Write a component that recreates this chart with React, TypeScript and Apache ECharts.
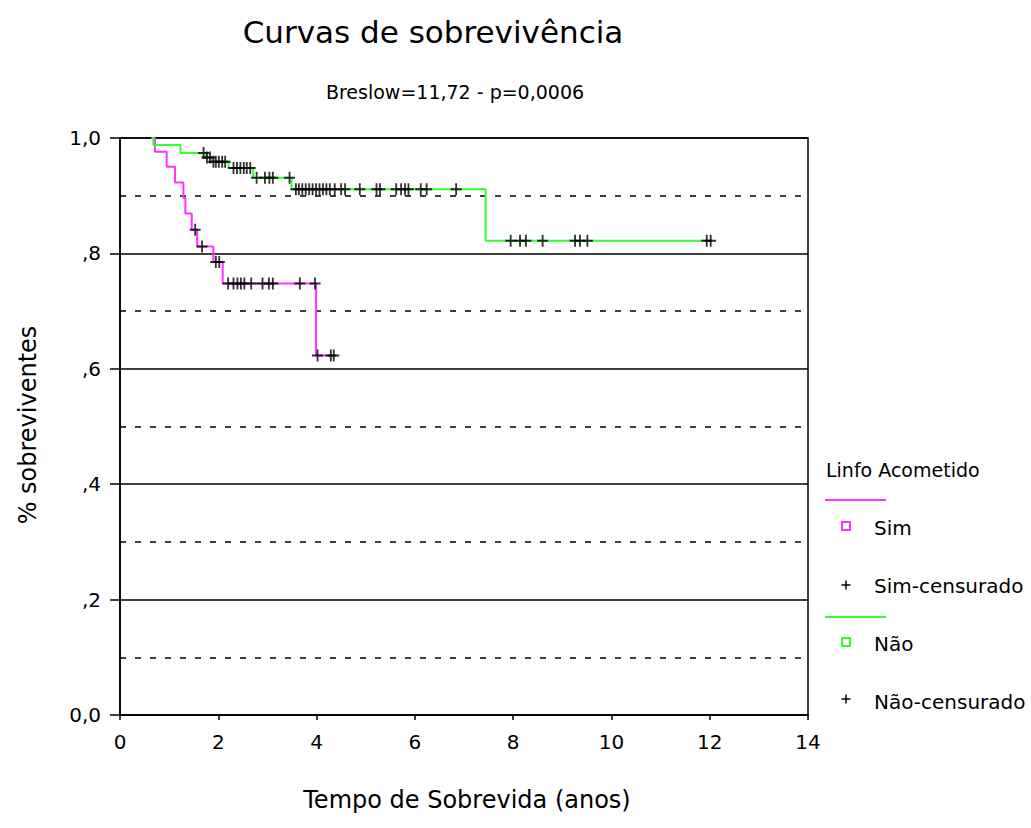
import React, { useEffect, useRef } from "react";
import * as echarts from "echarts";

// ---- Data ----
const simStepTimes = [0.65, 0.71, 0.95, 1.12, 1.29, 1.33, 1.46, 1.57, 1.9, 2.09, 3.99, 4.35];
const simStepSurv = [1.0, 0.976, 0.95, 0.923, 0.896, 0.869, 0.841, 0.812, 0.785, 0.748, 0.623, 0.623];
const simCensored = [1.53, 1.67, 1.95, 2.02, 2.2, 2.31, 2.39, 2.46, 2.53, 2.67, 2.9, 3.03, 3.11, 3.66, 3.97, 4.02, 4.29, 4.35];

const naoStepTimes = [0.64, 0.68, 1.23, 1.74, 1.86, 2.21, 2.71, 3.49, 7.44, 12.02];
const naoStepSurv = [1.0, 0.988, 0.974, 0.966, 0.959, 0.948, 0.931, 0.911, 0.822, 0.822];
const naoCensored = [
  1.7, 1.77, 1.83, 1.9, 1.95, 2.01, 2.08, 2.14, 2.31, 2.38, 2.45, 2.52, 2.58, 2.65, 2.78, 2.95, 3.04,
  3.11, 3.45, 3.58, 3.64, 3.71, 3.78, 3.85, 3.92, 3.99, 4.06, 4.13, 4.2, 4.27, 4.37, 4.5, 4.58, 4.88,
  5.22, 5.29, 5.62, 5.72, 5.8, 5.87, 6.12, 6.24, 6.84, 7.95, 8.14, 8.26, 8.6, 9.26, 9.36, 9.51, 11.94, 12.02,
];

const yTickLabels = ["0,0", ",2", ",4", ",6", ",8", "1,0"];
const xTickLabels = ["0", "2", "4", "6", "8", "10", "12", "14"];

const titleText = "Curvas de sobrevivência";
const subtitleText = "Breslow=11,72 - p=0,0006";
const xName = "Tempo de Sobrevida (anos)";
const yName = "% sobreviventes";
const legendTitle = "Linfo Acometido";
const legendLabels = ["Sim", "Sim-censurado", "Não", "Não-censurado"];

const MAGENTA = "#ff33ff";
const GREEN = "#33ff33";
const FONT = "DejaVu Sans";

function survivalAt(times: number[], surv: number[], t: number): number {
  let s = surv[0];
  for (let i = 0; i < times.length; i++) {
    if (times[i] <= t) s = surv[i];
  }
  return s;
}

const PLUS = "path://M5,0H7V5H12V7H7V12H5V7H0V5H5Z";

export default function App() {
  const ref = useRef<HTMLDivElement>(null);
  useEffect(() => {
    if (!ref.current) return;
    const chart = echarts.init(ref.current, undefined, { renderer: "svg" });

    const simLine = simStepTimes.map((t, i) => [t, simStepSurv[i]]);
    const naoLine = naoStepTimes.map((t, i) => [t, naoStepSurv[i]]);
    const simCens = simCensored.map((t) => [t, survivalAt(simStepTimes, simStepSurv, t)]);
    const naoCens = naoCensored.map((t) => [t, survivalAt(naoStepTimes, naoStepSurv, t)]);

    const textStyle = (size: number) => ({ fontFamily: FONT, fontSize: size, fill: "#000" });

    const plusGlyph = (cx: number, cy: number) => [
      { type: "line", shape: { x1: cx - 4.5, y1: cy, x2: cx + 4.5, y2: cy }, style: { stroke: "#000", lineWidth: 1.5 } },
      { type: "line", shape: { x1: cx, y1: cy - 4.5, x2: cx, y2: cy + 4.5 }, style: { stroke: "#000", lineWidth: 1.5 } },
    ];

    chart.setOption({
      animation: false,
      backgroundColor: "#fff",
      grid: {
        left: 120,
        right: 223,
        top: 138,
        bottom: 113,
        show: true,
        borderColor: "#000",
        borderWidth: 1.5,
        backgroundColor: "transparent",
      },
      xAxis: {
        type: "value",
        min: 0,
        max: 14,
        interval: 2,
        axisLine: { show: true, lineStyle: { color: "#000", width: 1.5 } },
        axisTick: { show: true, length: 5, lineStyle: { color: "#000", width: 1.5 } },
        axisLabel: {
          margin: 17,
          fontFamily: FONT,
          fontSize: 20,
          color: "#000",
          formatter: (v: number) => xTickLabels[Math.round(v / 2)] ?? "",
        },
        splitLine: { show: false },
      },
      yAxis: {
        type: "value",
        min: 0,
        max: 1,
        interval: 0.2,
        axisLine: { show: true, lineStyle: { color: "#000", width: 1.5 } },
        axisTick: { show: true, length: 10, lineStyle: { color: "#000", width: 1.5 } },
        axisLabel: {
          margin: 19,
          fontFamily: FONT,
          fontSize: 20,
          color: "#000",
          formatter: (v: number) => yTickLabels[Math.round(v / 0.2)] ?? "",
        },
        splitLine: { show: true, lineStyle: { color: "#000", width: 1.5, type: "solid" } },
        minorTick: { show: false, splitNumber: 2 },
        minorSplitLine: { show: true, lineStyle: { color: "#000", width: 1.5, type: [6, 9] } },
      },
      series: [
        {
          name: "Sim",
          type: "line",
          step: "end",
          data: simLine,
          showSymbol: false,
          lineStyle: { color: MAGENTA, width: 2 },
          z: 2,
        },
        {
          name: "Não",
          type: "line",
          step: "end",
          data: naoLine,
          showSymbol: false,
          lineStyle: { color: GREEN, width: 2 },
          z: 2,
        },
        {
          name: "Sim-censurado",
          type: "scatter",
          data: simCens,
          symbol: PLUS,
          symbolSize: [11, 12],
          itemStyle: { color: "#000" },
          z: 3,
        },
        {
          name: "Não-censurado",
          type: "scatter",
          data: naoCens,
          symbol: PLUS,
          symbolSize: [11, 12],
          itemStyle: { color: "#000" },
          z: 3,
        },
      ],
      graphic: [
        { type: "text", x: 433, y: 32, style: { ...textStyle(31), text: titleText, textAlign: "center", textVerticalAlign: "middle" } },
        { type: "text", x: 455, y: 92, style: { ...textStyle(19), text: subtitleText, textAlign: "center", textVerticalAlign: "middle" } },
        { type: "text", x: 467, y: 800, style: { ...textStyle(24), text: xName, textAlign: "center", textVerticalAlign: "middle" } },
        {
          type: "text",
          x: 28,
          y: 425,
          rotation: Math.PI / 2,
          style: { ...textStyle(24), text: yName, textAlign: "center", textVerticalAlign: "middle" },
        },
        // legend
        { type: "text", x: 826, y: 470, style: { ...textStyle(19), text: legendTitle, textAlign: "left", textVerticalAlign: "middle" } },
        { type: "line", shape: { x1: 825, y1: 500, x2: 886, y2: 500 }, style: { stroke: MAGENTA, lineWidth: 2 } },
        { type: "rect", shape: { x: 842, y: 522, width: 8, height: 8 }, style: { stroke: MAGENTA, fill: "none", lineWidth: 2 } },
        { type: "text", x: 874, y: 528, style: { ...textStyle(20), text: legendLabels[0], textAlign: "left", textVerticalAlign: "middle" } },
        ...plusGlyph(846, 585),
        { type: "text", x: 874, y: 586, style: { ...textStyle(20), text: legendLabels[1], textAlign: "left", textVerticalAlign: "middle" } },
        { type: "line", shape: { x1: 825, y1: 617, x2: 886, y2: 617 }, style: { stroke: GREEN, lineWidth: 2 } },
        { type: "rect", shape: { x: 842, y: 638, width: 8, height: 8 }, style: { stroke: GREEN, fill: "none", lineWidth: 2 } },
        { type: "text", x: 874, y: 644, style: { ...textStyle(20), text: legendLabels[2], textAlign: "left", textVerticalAlign: "middle" } },
        ...plusGlyph(846, 699),
        { type: "text", x: 874, y: 702, style: { ...textStyle(20), text: legendLabels[3], textAlign: "left", textVerticalAlign: "middle" } },
      ],
    });
    return () => chart.dispose();
  }, []);
  return <div ref={ref} style={{ position: "fixed", left: 0, top: 0, width: 1031, height: 828 }} />;
}
